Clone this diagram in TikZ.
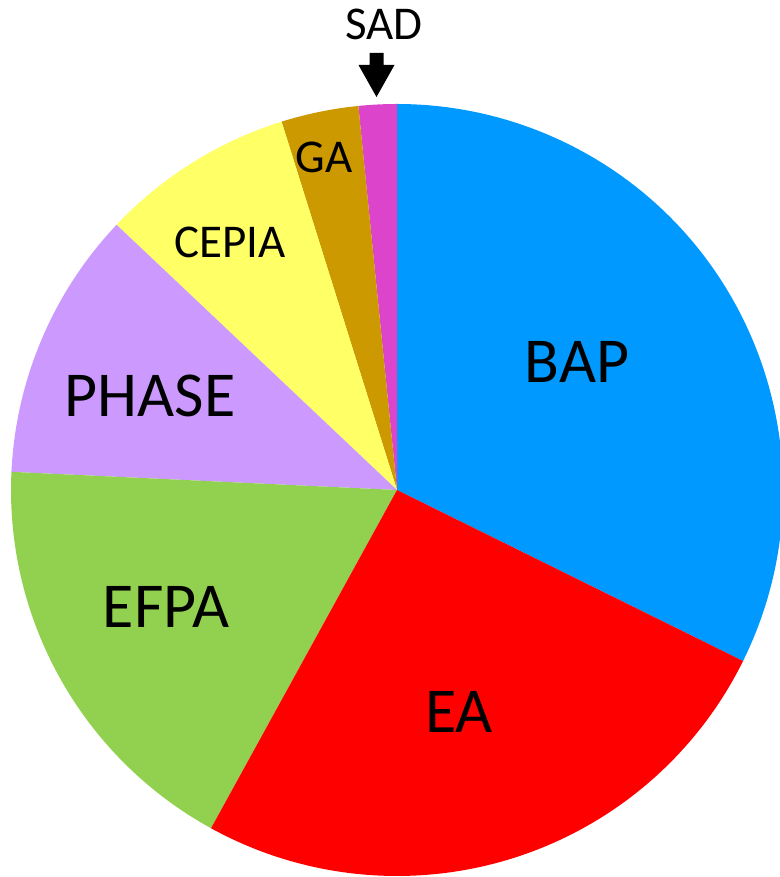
\documentclass[tikz,border=0pt]{standalone}
\usepackage{fontspec}
\setmainfont{Carlito}
\definecolor{cbap}{HTML}{0099FF}
\definecolor{cea}{HTML}{FF0000}
\definecolor{cefpa}{HTML}{92D050}
\definecolor{cphase}{HTML}{CC99FF}
\definecolor{ccepia}{HTML}{FFFF66}
\definecolor{cga}{HTML}{CC9900}
\definecolor{csad}{HTML}{DD44CC}
\begin{document}
\begin{tikzpicture}[x=1pt,y=1pt,
  big/.style={font=\fontsize{64}{76}\selectfont, inner sep=0pt},
  small/.style={font=\fontsize{47}{56}\selectfont, inner sep=0pt}]
\useasboundingbox (0,0) rectangle (779,877);
\coordinate (c) at (397,387);
\def\R{386}
\newcommand\slice[3]{\fill[#3] (c) -- ++(#1:\R) arc[start angle=#1, end angle=#2, radius=\R] -- cycle;}
\slice{-26.3}{90}{cbap}
\slice{90}{95.75}{csad}
\slice{95.75}{107.4}{cga}
\slice{107.4}{136.6}{ccepia}
\slice{136.6}{177.3}{cphase}
\slice{177.3}{241.2}{cefpa}
\slice{241.2}{333.7}{cea}
\node[big] (bap) at (577,515) {BAP};
\node[big] (ea) at (459,165) {EA};
\node[big] (efpa) at (166,270) {EFPA};
\node[big] (phase) at (150,481) {PHASE};
\node[small] (cepia) at (230,635) {CEPIA};
\node[small] (ga) at (324,720) {GA};
\node[small] (sad) at (384,853) {SAD};
\fill[black] (369.5,824) -- (383.5,824) -- (383.5,812) -- (394.5,812) -- (376.5,780) -- (358.5,812) -- (369.5,812) -- cycle;
\end{tikzpicture}
\end{document}
